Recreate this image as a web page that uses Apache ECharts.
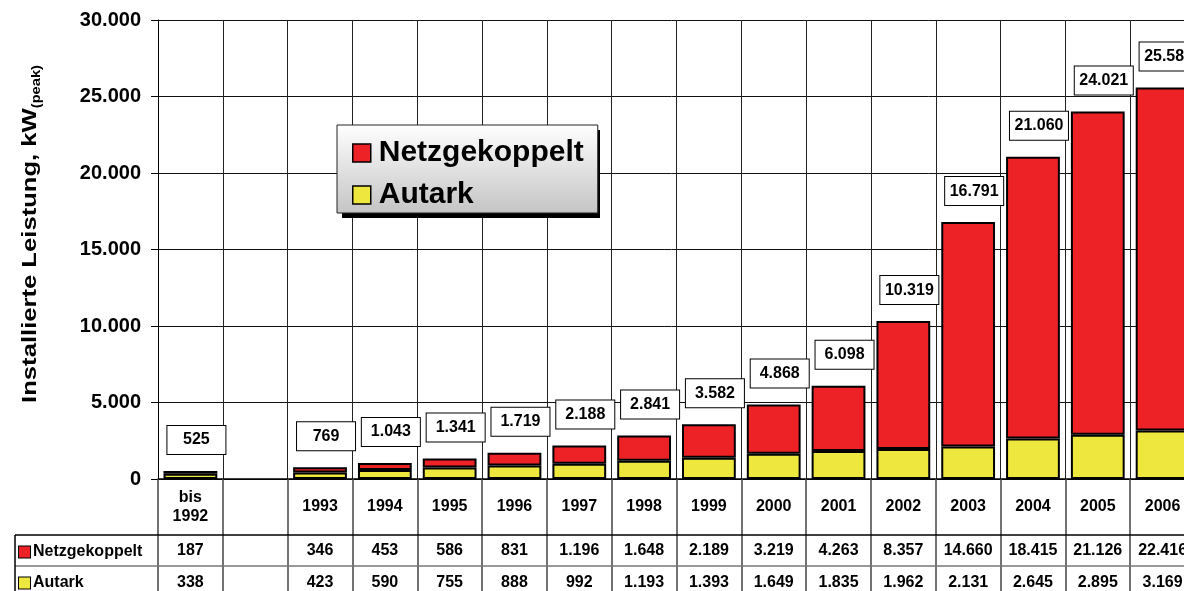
<!DOCTYPE html>
<html><head><meta charset="utf-8">
<script src="https://cdn.jsdelivr.net/npm/echarts@6/dist/echarts.min.js"></script>
<style>html,body{margin:0;padding:0;background:#fff}#c{width:1184px;height:591px}</style>
</head><body><div id="c"></div>
<script>
const categories = ['bis\n1992', '', '1993', '1994', '1995', '1996', '1997', '1998', '1999', '2000', '2001', '2002', '2003', '2004', '2005', '2006'];
const netzgekoppelt = [187, null, 346, 453, 586, 831, 1196, 1648, 2189, 3219, 4263, 8357, 14660, 18415, 21126, 22416];
const autark = [338, null, 423, 590, 755, 888, 992, 1193, 1393, 1649, 1835, 1962, 2131, 2645, 2895, 3169];
const totals = [525, null, 769, 1043, 1341, 1719, 2188, 2841, 3582, 4868, 6098, 10319, 16791, 21060, 24021, 25585];
const yMin = 0, yMax = 30000, yStep = 5000;
const seriesNames = ['Netzgekoppelt', 'Autark'];
const yTitle = ['Installierte Leistung, kW', '(peak)'];

const FONT = '"Liberation Sans", Arial, sans-serif';
const RED = '#ED2226', YEL = '#EEE73E';
const fmt = v => v == null ? '' : String(v).replace(/\B(?=(\d{3})+(?!\d))/g, '.');

const chart = echarts.init(document.getElementById('c'), null, {renderer: 'canvas'});
const hiddenAxis = (data, margin) => ({
  type: 'category', gridIndex: 0, position: 'bottom', data: data,
  axisLine: {show: false}, axisTick: {show: false}, splitLine: {show: false},
  axisLabel: {interval: 0, margin: margin, verticalAlign: 'middle', color: '#000',
    fontFamily: FONT, fontWeight: 'bold', fontSize: 16}
});
const rowLabel = (name, color, top) => ({
  type: 'text', left: 18, top: top, z: 10, style: {
    text: '{m|}{t|' + name + '}',
    rich: {
      m: {backgroundColor: color, borderColor: '#000', borderWidth: 1, width: 11, height: 11},
      t: {fontFamily: FONT, fontWeight: 'bold', fontSize: 16, fill: '#000', padding: [0, 0, 0, 3]}
    }}
});
chart.setOption({
  animation: false,
  backgroundColor: '#fff',
  textStyle: {fontFamily: FONT},
  grid: {left: 158, right: -11, top: 20, bottom: 112, containLabel: false, outerBoundsMode: 'none'},
  legend: {
    data: seriesNames, orient: 'vertical', left: 337, top: 125, z: 6,
    icon: 'rect', itemWidth: 18, itemHeight: 18, itemGap: 12,
    padding: [13, 14, 3, 15],
    backgroundColor: new echarts.graphic.LinearGradient(0, 0, 0, 1, [
      {offset: 0, color: '#ffffff'}, {offset: 1, color: '#c4c4c4'}]),
    borderColor: '#222', borderWidth: 1,
    itemStyle: {borderColor: '#000', borderWidth: 1.5},
    textStyle: {fontFamily: FONT, fontWeight: 'bold', fontSize: 30, color: '#000', lineHeight: 30, padding: [0, 0, 0, 3]}
  },
  xAxis: [
    {
      type: 'category', data: categories, gridIndex: 0, position: 'bottom',
      axisLine: {show: true, lineStyle: {color: '#000', width: 1.5}},
      axisTick: {show: true, interval: 0, length: 118, lineStyle: {color: '#444', width: 1.5}},
      splitLine: {show: true, interval: 0, lineStyle: {color: '#222', width: 1}},
      axisLabel: {interval: 0, margin: 28, verticalAlign: 'middle', color: '#000',
        fontFamily: FONT, fontWeight: 'bold', fontSize: 16, lineHeight: 19}
    },
    hiddenAxis(netzgekoppelt.map(fmt), 72),
    hiddenAxis(autark.map(fmt), 104)
  ],
  yAxis: {
    type: 'value', min: yMin, max: yMax, interval: yStep,
    axisLine: {show: true, lineStyle: {color: '#000', width: 1}},
    axisTick: {show: true, length: 7, lineStyle: {color: '#000'}},
    splitLine: {show: true, lineStyle: {color: '#111', width: 1}},
    axisLabel: {margin: 17, color: '#000', fontFamily: FONT, fontWeight: 'bold', fontSize: 20, formatter: fmt}
  },
  series: [
    {
      name: 'Autark', type: 'bar', stack: 'total', data: autark, barCategoryGap: '17%',
      itemStyle: {color: YEL, borderColor: '#000', borderWidth: 2}, z: 2
    },
    {
      name: 'Netzgekoppelt', type: 'bar', stack: 'total', data: netzgekoppelt, barCategoryGap: '17%',
      itemStyle: {color: RED, borderColor: '#000', borderWidth: 2}, z: 2
    },
    {
      name: 'Summe', type: 'line', data: totals, symbol: 'circle', symbolSize: 0, showSymbol: true, silent: true,
      itemStyle: {color: 'transparent'},
      lineStyle: {opacity: 0, width: 0}, z: 5,
      label: {
        show: true, position: 'top', distance: 17, offset: [6, 0], formatter: p => fmt(p.value),
        backgroundColor: '#fff', borderColor: '#000', borderWidth: 1, padding: [6, 4],
        width: 50, align: 'center', color: '#000', fontFamily: FONT, fontWeight: 'bold', fontSize: 16
      }
    }
  ],
  graphic: [
    {type: 'rect', shape: {x: 342, y: 130, width: 258, height: 88}, style: {fill: '#000'}, z: 5},
    {type: 'line', shape: {x1: 15, y1: 535, x2: 1184, y2: 535}, style: {stroke: '#000', lineWidth: 1.5}, z: 10},
    {type: 'line', shape: {x1: 15, y1: 566, x2: 1184, y2: 566}, style: {stroke: '#777', lineWidth: 1.5}, z: 10},
    {type: 'line', shape: {x1: 15, y1: 535, x2: 15, y2: 600}, style: {stroke: '#000', lineWidth: 1.5}, z: 10},
    rowLabel(seriesNames[0], RED, 544),
    rowLabel(seriesNames[1], YEL, 575),
    {type: 'text', x: 30, y: 234, rotation: Math.PI / 2, scaleX: 1.22, z: 10, style: {
      text: '{a|' + yTitle[0] + '}{b|' + yTitle[1] + '}', align: 'center', verticalAlign: 'middle',
      rich: {
        a: {fontFamily: FONT, fontWeight: 'bold', fontSize: 21, fill: '#000', lineHeight: 26},
        b: {fontFamily: FONT, fontWeight: 'bold', fontSize: 12, fill: '#000', lineHeight: 12, verticalAlign: 'bottom'}
      }}}
  ]
});
</script></body></html>
